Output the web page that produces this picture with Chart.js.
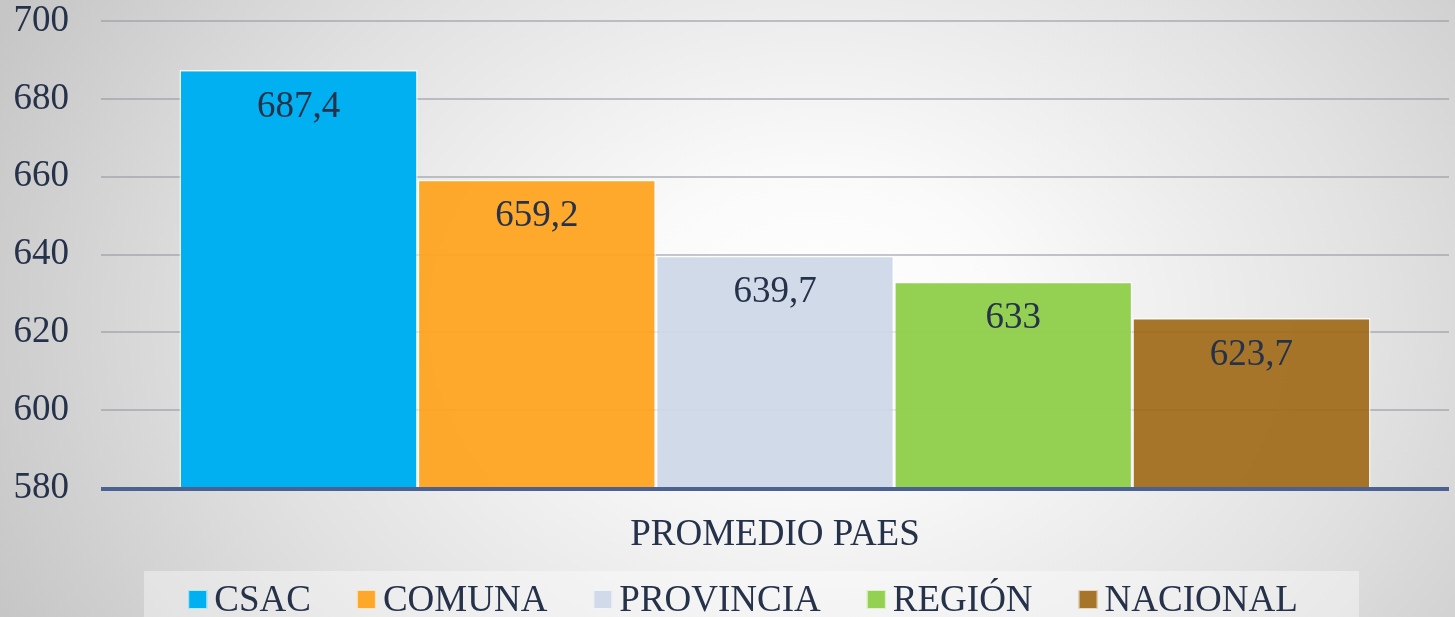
<!DOCTYPE html>
<html>
<head>
<meta charset="utf-8">
<script src="https://cdn.jsdelivr.net/npm/chart.js@4.4.1/dist/chart.umd.min.js"></script>
<style>
  html, body { margin: 0; padding: 0; width: 1455px; height: 617px; overflow: hidden; }
  body {
    background: radial-gradient(ellipse 62% 110% at 56% 52%, #ffffff 0%, #fafafa 22%, #e2e2e2 62%, #c6c6c6 100%);
  }
  #wrap { position: absolute; left: 0; top: 0; width: 1455px; height: 617px; }
</style>
</head>
<body>
<div id="wrap"><canvas id="c" width="1455" height="617"></canvas></div>
<script>
const categories = ["PROMEDIO PAES"];
const seriesNames = ["CSAC", "COMUNA", "PROVINCIA", "REGIÓN", "NACIONAL"];
const seriesValues = [687.4, 659.2, 639.7, 633, 623.7];
const valueLabels = ["687,4", "659,2", "639,7", "633", "623,7"];
const seriesColors = ["rgba(0,176,240,1)", "rgba(254,164,32,0.95)", "rgba(207,216,232,0.95)", "rgba(146,208,80,0.98)", "rgba(160,106,24,0.92)"];
const yTicks = [580, 600, 620, 640, 660, 680, 700];

const FONT = '"Liberation Serif", "Times New Roman", serif';
const TEXT = '#25324a';

const valueLabelPlugin = {
  id: 'valueLabels',
  afterDatasetsDraw(chart) {
    const ctx = chart.ctx;
    ctx.save();
    ctx.font = '37px ' + FONT;
    ctx.fillStyle = TEXT;
    ctx.textAlign = 'center';
    ctx.textBaseline = 'middle';
    chart.data.datasets.forEach((ds, i) => {
      const meta = chart.getDatasetMeta(i);
      meta.data.forEach((bar) => {
        ctx.fillText(valueLabels[i], bar.x, bar.y + 37);
      });
    });
    ctx.restore();
  }
};

const legendPlugin = {
  id: 'customLegend',
  afterDraw(chart) {
    const ctx = chart.ctx;
    ctx.save();
    ctx.font = '37px ' + FONT;
    const box = 19, gapText = 7, gapItem = 46;
    const widths = seriesNames.map(n => box + gapText + ctx.measureText(n).width);
    const total = widths.reduce((a, b) => a + b, 0) + gapItem * (seriesNames.length - 1);
    let x = 743 - total / 2;
    ctx.fillStyle = 'rgba(255,255,255,0.38)';
    ctx.fillRect(144, 571, 1359 - 144, 60);
    ctx.textBaseline = 'alphabetic';
    ctx.textAlign = 'left';
    seriesNames.forEach((n, i) => {
      ctx.fillStyle = seriesColors[i];
      ctx.fillRect(x, 590, box, box);
      ctx.strokeStyle = 'rgba(255,255,255,0.7)';
      ctx.lineWidth = 1;
      ctx.strokeRect(x + 0.5, 590.5, box - 1, box - 1);
      ctx.fillStyle = TEXT;
      ctx.fillText(n, x + box + gapText, 611);
      x += widths[i] + gapItem;
    });
    ctx.restore();
  }
};

new Chart(document.getElementById('c'), {
  type: 'bar',
  data: {
    labels: categories,
    datasets: seriesNames.map((name, i) => ({
      label: name,
      data: [seriesValues[i]],
      backgroundColor: seriesColors[i],
      borderColor: 'rgba(255,255,255,0.75)',
      borderWidth: 1.5,
      borderSkipped: 'bottom',
      categoryPercentage: 0.8836,
      barPercentage: 1.0
    }))
  },
  options: {
    responsive: false,
    animation: false,
    devicePixelRatio: 1,
    layout: { padding: { left: 13, right: 6, top: 0, bottom: 60 } },
    plugins: {
      legend: { display: false },
      tooltip: { enabled: false }
    },
    scales: {
      x: {
        grid: { display: false, drawTicks: false },
        border: { display: false },
        ticks: { font: { family: FONT, size: 37 }, color: TEXT, padding: 25 },
        afterFit(axis) { axis.height = 69; }
      },
      y: {
        min: 580,
        max: 700,
        afterBuildTicks(axis) { axis.ticks = yTicks.map(v => ({ value: v })); },
        afterFit(axis) { axis.width = 88; axis.paddingTop = 21; axis.paddingBottom = 0; },
        grid: {
          color: (c) => c.tick && c.tick.value === 580 ? 'rgba(0,0,0,0)' : 'rgba(150,152,162,0.55)',
          lineWidth: 2,
          drawTicks: false
        },
        border: { display: false },
        ticks: { font: { family: FONT, size: 37 }, color: TEXT, padding: 32 }
      }
    }
  },
  plugins: [valueLabelPlugin, legendPlugin, {
    id: 'baseAxis',
    afterDatasetsDraw(chart) {
      const ctx = chart.ctx;
      const y = chart.scales.y.getPixelForValue(580);
      ctx.save();
      ctx.strokeStyle = '#4a6192';
      ctx.lineWidth = 4;
      ctx.beginPath();
      ctx.moveTo(chart.chartArea.left, y + 1);
      ctx.lineTo(chart.chartArea.right, y + 1);
      ctx.stroke();
      ctx.restore();
    }
  }]
});
</script>
</body>
</html>
